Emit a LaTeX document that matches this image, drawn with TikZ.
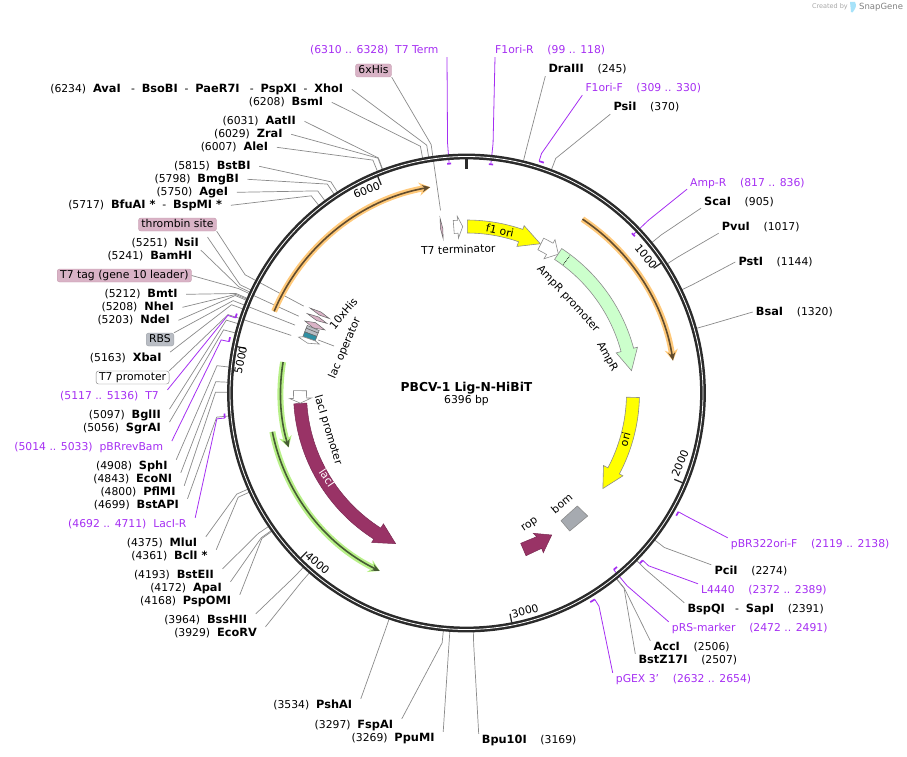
\documentclass[tikz,border=0pt]{standalone}
\usepackage{fontspec}
\setmainfont{DejaVu Sans}[BoldFeatures={Scale=1.05}]
\usetikzlibrary{arrows.meta}

\definecolor{ringdark}{HTML}{2B2B2B}
\definecolor{sitegrey}{HTML}{8A8A8A}
\definecolor{primerpurple}{HTML}{A52EF2}
\definecolor{tagpink}{HTML}{D9B3C6}
\definecolor{tagpinkline}{HTML}{C49AAE}
\definecolor{rbsgrey}{HTML}{B9BDC4}
\definecolor{lacred}{HTML}{993366}
\definecolor{glowgreen}{HTML}{B8F088}
\definecolor{glowgold}{HTML}{FFC97A}
\definecolor{oriyellow}{HTML}{FFFF00}
\definecolor{ampgreen}{HTML}{CCFFCC}
\definecolor{operteal}{HTML}{2F8FA3}

\tikzset{
  sitelabel/.style={inner xsep=8.5pt, inner ysep=1pt, text height=8pt, text depth=2pt, font=\fontsize{10.8}{12}\selectfont},
  rightlabel/.style={sitelabel, inner xsep=3pt, anchor=west},
  leftlabel/.style={sitelabel, anchor=east},
  primerlabel/.style={text=primerpurple},
  taglabel/.style={draw, rounded corners=2.5pt, inner xsep=3pt, inner ysep=1.5pt, text height=8pt, text depth=2pt, font=\fontsize{10.8}{12}\selectfont},
  siteline/.style={draw=sitegrey, line width=.7pt},
  primerline/.style={draw=primerpurple, line width=.8pt},
  primermark/.style={draw=primerpurple, line width=1.7pt},
  gliph/.style={draw=black!45, line width=.6pt},
  plain/.style={font=\fontsize{10.8}{12}\selectfont},
}

% band with arrow head: style, start, head base, tip (angles)
\newcommand{\featband}[4]{%
  \draw[#1] (#2:173) arc (#2:#3:173) -- (#3:177) -- (#4:166.5) -- (#3:155) -- (#3:160) arc (#3:#2:160) -- cycle;
}
% thin band with glow: colour, start, end, radius
\newcommand{\glowarc}[4]{%
  \draw[#1, line width=6pt, -{Stealth[length=11pt,width=13pt]}] (#2:#4) arc (#2:#3:#4);
  \draw[black!62!#1, line width=1.6pt, -{Stealth[length=8pt,width=7pt]}] (#2:#4) arc (#2:#3:#4);
}

\begin{document}
\begin{tikzpicture}[x=1pt,y=1pt]
  \useasboundingbox (0,0) rectangle (907,-757);
  \coordinate (ctr) at (466.5,-393);

  % Primer labels
  \node[leftlabel, primerlabel] (t7term) at (447,-51) {(6310 .. 6328)~~T7 Term};
  \node[rightlabel, primerlabel, inner xsep=0pt] (f1orir) at (495,-51) {F1ori-R~~~~(99 .. 118)};
  \node[rightlabel, primerlabel] (f1orif) at (582.3,-89) {F1ori-F~~~~(309 .. 330)};
  \node[rightlabel, primerlabel] (ampr) at (687,-183) {Amp-R~~~~(817 .. 836)};
  \node[rightlabel, primerlabel] (pbrori) at (727.7,-544) {pBR322ori-F~~~~(2119 .. 2138)};
  \node[rightlabel, primerlabel] (lfour) at (698,-590) {L4440~~~~(2372 .. 2389)};
  \node[rightlabel, primerlabel] (prs) at (668.7,-628) {pRS-marker~~~~(2472 .. 2491)};
  \node[rightlabel, primerlabel] (pgex) at (612.7,-679) {pGEX 3'~~~~(2632 .. 2654)};
  \node[leftlabel, primerlabel] (tseven) at (167.5,-396) {(5117 .. 5136)~~T7};
  \node[leftlabel, primerlabel] (pbrrev) at (171.8,-447.3) {(5014 .. 5033)~~pBRrevBam};
  \node[leftlabel, primerlabel] (lacir) at (195.2,-524) {(4692 .. 4711)~~LacI-R};

  % Enzyme labels, top left
  \node[leftlabel] (ava) at (351.8,-89.3) {(6234)~~\textbf{AvaI}~~~-~~\textbf{BsoBI}~~-~~\textbf{PaeR7I}~~~-~~\textbf{PspXI}~~-~~\textbf{XhoI}};
  \node[leftlabel] (bsm) at (331.8,-102.3) {(6208)~~\textbf{BsmI}};
  \node[leftlabel] (aat) at (304.5,-121.3) {(6031)~~\textbf{AatII}};
  \node[leftlabel] (zra) at (291.2,-134.3) {(6029)~~\textbf{ZraI}};
  \node[leftlabel] (ale) at (276.8,-147.3) {(6007)~~\textbf{AleI}};
  \node[leftlabel] (bstb) at (259.2,-166.3) {(5815)~~\textbf{BstBI}};
  \node[leftlabel] (bmg) at (247.5,-179.3) {(5798)~~\textbf{BmgBI}};
  \node[leftlabel] (age) at (236.8,-192.3) {(5750)~~\textbf{AgeI}};
  \node[leftlabel] (bfua) at (230.8,-205.3) {(5717)~~\textbf{BfuAI *}~~-~~\textbf{BspMI *}};
  \node[leftlabel] (nsi) at (207.5,-243.3) {(5251)~~\textbf{NsiI}};
  \node[leftlabel] (bam) at (200.8,-256.3) {(5241)~~\textbf{BamHI}};
  \node[leftlabel] (bmt) at (186.2,-294.3) {(5212)~~\textbf{BmtI}};
  \node[leftlabel] (nhe) at (182.5,-307.3) {(5208)~~\textbf{NheI}};
  \node[leftlabel] (nde) at (178.5,-320.3) {(5203)~~\textbf{NdeI}};
  \node[leftlabel] (xba) at (170.2,-358.3) {(5163)~~\textbf{XbaI}};
  \node[leftlabel] (bgl) at (169.5,-415.3) {(5097)~~\textbf{BglII}};
  \node[leftlabel] (sgr) at (169.5,-428.3) {(5056)~~\textbf{SgrAI}};
  \node[leftlabel] (sph) at (176.2,-466) {(4908)~~\textbf{SphI}};
  \node[leftlabel] (econ) at (180.8,-479) {(4843)~~\textbf{EcoNI}};
  \node[leftlabel] (pfl) at (184.2,-492) {(4800)~~\textbf{PflMI}};
  \node[leftlabel] (bstapi) at (187.5,-505) {(4699)~~\textbf{BstAPI}};
  \node[leftlabel] (mlu) at (205.8,-543) {(4375)~~\textbf{MluI}};
  \node[leftlabel] (bcl) at (216.2,-556) {(4361)~~\textbf{BclI *}};
  \node[leftlabel] (bste) at (222.5,-575) {(4193)~~\textbf{BstEII}};
  \node[leftlabel] (apa) at (230.5,-588) {(4172)~~\textbf{ApaI}};
  \node[leftlabel] (pspo) at (239.8,-601) {(4168)~~\textbf{PspOMI}};
  \node[leftlabel] (bss) at (255.8,-620) {(3964)~~\textbf{BssHII}};
  \node[leftlabel] (ecor) at (265.5,-633) {(3929)~~\textbf{EcoRV}};
  \node[leftlabel] (psh) at (360.8,-705) {(3534)~~\textbf{PshAI}};
  \node[leftlabel] (fsp) at (401.8,-725) {(3297)~~\textbf{FspAI}};
  \node[leftlabel] (ppu) at (443.2,-738) {(3269)~~\textbf{PpuMI}};

  % Enzyme labels, right
  \node[rightlabel] (bpu) at (478.7,-740) {\textbf{Bpu10I}~~~~(3169)};
  \node[rightlabel] (dra) at (545.3,-70) {\textbf{DraIII}~~~~(245)};
  \node[rightlabel] (psi) at (610.3,-108) {\textbf{PsiI}~~~~(370)};
  \node[rightlabel] (sca) at (701,-202) {\textbf{ScaI}~~~~(905)};
  \node[rightlabel] (pvu) at (718.7,-227) {\textbf{PvuI}~~~~(1017)};
  \node[rightlabel] (pst) at (735.3,-262) {\textbf{PstI}~~~~(1144)};
  \node[rightlabel] (bsa) at (752.7,-312) {\textbf{BsaI}~~~~(1320)};
  \node[rightlabel] (pci) at (711.3,-571) {\textbf{PciI}~~~~(2274)};
  \node[rightlabel] (bspq) at (684.3,-609) {\textbf{BspQI}~~~-~~\textbf{SapI}~~~~(2391)};
  \node[rightlabel] (acc) at (650.3,-647) {\textbf{AccI}~~~~(2506)};
  \node[rightlabel] (bstz) at (635.3,-660) {\textbf{BstZ17I}~~~~(2507)};

  % Feature labels in boxes
  \node[taglabel, fill=tagpink, draw=tagpinkline, anchor=east] (hissix) at (391.7,-70.5) {6xHis};
  \node[taglabel, fill=tagpink, draw=tagpinkline, anchor=east] (thrombin) at (216.7,-224.5) {thrombin site};
  \node[taglabel, fill=tagpink, draw=tagpinkline, anchor=east] (t7tag) at (191.7,-275.5) {T7 tag (gene 10 leader)};
  \node[taglabel, fill=rbsgrey, draw=rbsgrey!85!black, anchor=east] (rbs) at (174,-339.5) {RBS};
  \node[taglabel, fill=white, draw=black!50, anchor=east] (t7prom) at (169.3,-377.5) {T7 promoter};

  % Connectors of the enzyme sites
  \foreach \nm/\pos/\anc in {ava/6234/east, bsm/6208/east, aat/6031/east, zra/6029/east, ale/6007/east,
      bstb/5815/east, bmg/5798/east, age/5750/east, bfua/5717/east, nsi/5251/north east, bam/5241/north east,
      bmt/5212/east, nhe/5208/east, nde/5203/east, xba/5163/north east, bgl/5097/north east, sgr/5056/north east,
      sph/4908/north east, econ/4843/north east, pfl/4800/north east, bstapi/4699/north east,
      mlu/4375/north east, bcl/4361/north east, bste/4193/north east, apa/4172/north east, pspo/4168/north east,
      bss/3964/north east, ecor/3929/north east, psh/3534/north east, fsp/3297/north east, ppu/3269/north east,
      bpu/3169/north west, dra/245/south west, psi/370/south west, sca/905/south west, pvu/1017/south west,
      pst/1144/west, bsa/1320/west, pci/2274/north west, bspq/2391/north west, acc/2506/north west, bstz/2507/north west}{
    \pgfmathsetmacro\ang{90-\pos/6396*360}
    \coordinate (\nm e) at ([shift={(ctr)}]\ang:251);
    \coordinate (\nm s) at ([shift={(ctr)}]\ang:237);
    \draw[siteline] (\nm.\anc) -- (\nm e) -- (\nm s);
  }

  % Connectors of the boxed features
  \foreach \nm/\ang/\anc in {hissix/98.1/south east, thrombin/151.9/south east, t7tag/155.4/east, rbs/158.4/north east, t7prom/161.8/north east}{
    \coordinate (\nm e) at ([shift={(ctr)}]\ang:251);
    \coordinate (\nm s) at ([shift={(ctr)}]\ang:184.5);
    \draw[siteline] (\nm.\anc) -- (\nm e) -- (\nm s);
  }

  % Primers: marks and connectors
  \foreach \nm/\pa/\pb/\rad/\pe/\anc in {t7term/6310/6328/230/6319/south east, f1orir/99/118/230/108/south west,
      f1orif/309/330/243/309/south west, ampr/817/836/230/826/south west, pbrori/2119/2138/243/2119/north west,
      lfour/2372/2389/243/2372/north west, prs/2472/2491/230/2491/north west, pgex/2632/2654/243/2632/north west,
      tseven/5117/5136/243/5117/north east, pbrrev/5014/5033/243/5014/north east, lacir/4692/4711/243/4692/north east}{
    \pgfmathsetmacro\anga{90-\pa/6396*360}
    \pgfmathsetmacro\angb{90-\pb/6396*360}
    \pgfmathsetmacro\ange{90-\pe/6396*360}
    \coordinate (\nm e) at ([shift={(ctr)}]\ange:251);
    \coordinate (\nm m) at ([shift={(ctr)}]\ange:\rad);
    \coordinate (\nm a) at ([shift={(ctr)}]\anga:\rad);
    \draw[primerline] (\nm.\anc) -- (\nm e) -- (\nm m);
    \draw[primermark] (\nm a) arc (\anga:\angb:\rad);
  }

  % Ring
  \draw[ringdark, line width=5.8pt] (ctr) circle (236.5);
  \draw[white, line width=.8pt] (ctr) circle (236.5);

  \begin{scope}[shift={(ctr)}]
    % Ticks
    \draw[ringdark, line width=2.6pt] (90:224) -- (90:236);
    \foreach \tick in {1000,2000,3000,4000,5000,6000}{
      \pgfmathsetmacro\ang{90-\tick/6396*360}
      \draw[ringdark, line width=1.3pt] (\ang:225) -- (\ang:234);
    }

    % Outer arcs
    \glowarc{glowgold}{157}{100}{209}
    \glowarc{glowgold}{56.3}{8.9}{209}
    \glowarc{glowgreen}{191.3}{244}{198}
    \glowarc{glowgreen}{170.4}{197}{186}

    % Feature bands
    \featband{fill=oriyellow, gliph}{89.7}{71}{63.7}
    \featband{fill=oriyellow, gliph}{-1.5}{-27.9}{-35}
    \featband{fill=lacred, draw=lacred!80!black, line width=.5pt}{183.6}{237.6}{244.8}
    \featband{fill=white, gliph}{63.5}{60}{56.5}
    \featband{fill=white, gliph}{179.2}{181.8}{183.5}
    \featband{fill=white, gliph}{94.4}{93}{91.3}
    \featband{fill=ampgreen, gliph}{56.6}{15}{7.7}
    \draw[black, line width=.7pt, densely dotted] (53:161) -- (53:172);

    % Small features
    \draw[fill=tagpink, draw=black!60, line width=.5pt] (98.6:177) -- (98.2:166.5) -- (98.6:156) -- (99:166.5) -- cycle;
    \draw[fill=tagpink, draw=black!60, line width=.5pt] (151.5:178) -- (152.1:166.5) -- (151.5:156) -- (150.9:166.5) -- cycle;
    \draw[fill=tagpink, draw=black!60, line width=.5pt] (153.5:178) -- (154.2:166.5) -- (153.5:156) -- (152.8:166.5) -- cycle;
    \draw[fill=tagpink, draw=black!60, line width=.5pt] (156:177) -- (157:166.5) -- (156:155) -- (155:166.5) -- cycle;
    \draw[fill=rbsgrey, draw=black!60, line width=.5pt] (157:173) -- (157:160) -- (158:160) -- (158:173) -- cycle;
    \draw[fill=rbsgrey, draw=black!60, line width=.5pt] (158:173) -- (158:160) -- (159.3:160) -- (159.3:173) -- cycle;
    \draw[fill=operteal, draw=black!60, line width=.5pt] (159.3:173) -- (159.3:160) -- (161:160) -- (161:173) -- cycle;
    \draw[fill=white, gliph] (161:173) -- (161:160) -- (161.6:155) -- (162.6:166.5) -- (161.6:177) -- cycle;
  \end{scope}

  % Rop and bom
  \draw[fill=lacred, draw=lacred!80!black, line width=.5pt] (520.7,-543.3) -- (536.7,-536.7) -- (533.3,-533.3) -- (551.7,-535) -- (543.3,-552.7) -- (541.7,-548.3) -- (526,-555.7) -- cycle;
  \draw[fill=rbsgrey!90!black, gliph] (561,-520.7) -- (577.3,-506) -- (587.7,-516) -- (569.7,-531) -- cycle;

  % Lac operator pointer
  \coordinate (lacoa) at (318.3,-340);
  \coordinate (lacob) at (334,-346);
  \draw[siteline] (lacoa) -- (lacob);

  % Texts on the features
  \node[plain, rotate=2, inner sep=0pt] (tlabel) at (458.3,-249.3) {T7 terminator};
  \node[plain, rotate=-12, inner sep=0pt] (foril) at (500,-230.7) {f1 ori};
  \node[plain, rotate=-47, inner sep=0pt] (amprpl) at (568,-299) {AmpR promoter};
  \node[plain, rotate=-62, inner sep=0pt] (amprl) at (607,-357) {AmpR};
  \node[plain, rotate=75, inner sep=0pt] (oril) at (625,-439.3) {ori};
  \node[plain, rotate=35, inner sep=0pt] (ropl) at (530,-525) {rop};
  \node[plain, rotate=40, inner sep=0pt] (boml) at (561.7,-503.3) {bom};
  \node[plain, rotate=50, inner sep=0pt] (hisl) at (343.3,-313.3) {10xHis};
  \node[plain, rotate=67, inner sep=0pt] (lacol) at (345,-348) {lac operator};
  \node[plain, rotate=-73, inner sep=0pt] (lacpl) at (328,-430) {lacI promoter};
  \node[plain, rotate=-56, text=white, inner sep=0pt] (lacil) at (327,-478) {lacI};

  % Tick texts
  \node[plain, rotate=22, inner sep=0pt] (tsix) at (366.7,-190) {6000};
  \node[plain, rotate=-50, inner sep=0pt] (tone) at (646,-256.7) {1000};
  \node[plain, rotate=67, inner sep=0pt] (ttwo) at (680,-463.3) {2000};
  \node[plain, rotate=15, inner sep=0pt] (tthree) at (525,-611) {3000};
  \node[plain, rotate=-40, inner sep=0pt] (tfour) at (317.3,-563.3) {4000};
  \node[plain, rotate=78, inner sep=0pt] (tfive) at (240.7,-360) {5000};

  % Title
  \node[font=\fontsize{11.7}{13}\selectfont\bfseries, inner sep=0pt] (title) at (466.5,-388) {PBCV-1 Lig-N-HiBiT};
  \node[plain, inner sep=0pt] (size) at (466.5,-401) {6396 bp};

  % Logo
  \node[anchor=east, inner sep=0pt, text=black!35, font=\fontsize{6.5}{8}\selectfont] (created) at (848,-7) {Created by};
  \node[anchor=west, inner sep=0pt, text=black!50, font=\fontsize{8.5}{10}\selectfont] (snapgene) at (859,-7.5) {SnapGene};
  \fill[cyan!35] (850,-2) -- (855,-2) .. controls (857.5,-6) and (855,-9) .. (852.5,-12.5) -- (851,-12) -- cycle;
\end{tikzpicture}
\end{document}
